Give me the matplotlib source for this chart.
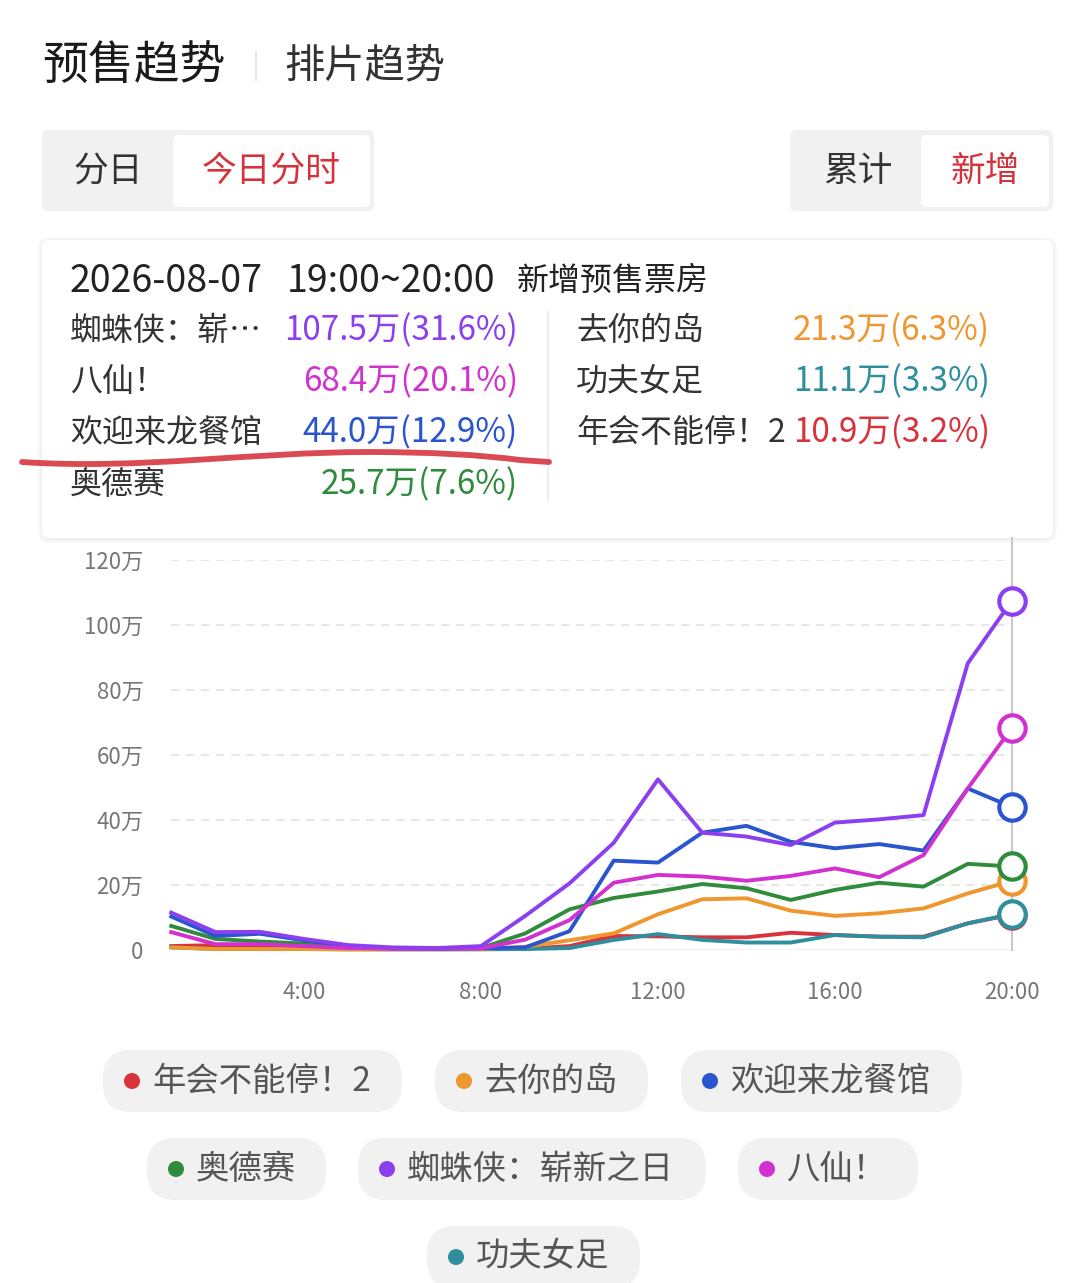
import matplotlib
matplotlib.use("Agg")
import matplotlib.pyplot as plt
from matplotlib.patches import FancyBboxPatch, Circle, PathPatch
from matplotlib.path import Path
from matplotlib.ticker import FuncFormatter

plt.rcParams['font.family'] = ['Noto Sans CJK SC', 'DejaVu Sans']

# ---------------- data (万) ----------------
hours = list(range(1, 21))
x_tick_hours = [4, 8, 12, 16, 20]
x_tick_labels = ["4:00", "8:00", "12:00", "16:00", "20:00"]
y_ticks = [0, 20, 40, 60, 80, 100, 120]

names = ["年会不能停！2", "去你的岛", "欢迎来龙餐馆", "奥德赛", "蜘蛛侠：崭新之日", "八仙！", "功夫女足"]
colors = ["#d8323c", "#f0962e", "#2a55cf", "#2f8c3c", "#8c3ff0", "#d231cf", "#2f8f9e"]

nianhui = [1.2, 1.5, 1.5, 1.0, 0.5, 0.3, 0.3, 0.3, 0.4, 1.2, 4.3, 4.2, 3.9, 3.9, 5.3, 4.6, 4.1, 4.1, 8.2, 10.9]
qunidedao = [0.8, 0.3, 0.3, 0.3, 0.2, 0.2, 0.2, 0.3, 1.0, 3.0, 5.1, 11.0, 15.6, 15.9, 12.1, 10.5, 11.3, 12.8, 17.4, 21.3]
huanying = [10.3, 4.3, 5.0, 3.0, 1.2, 0.5, 0.4, 0.5, 0.8, 5.8, 27.5, 26.9, 36.1, 38.2, 33.3, 31.3, 32.6, 30.6, 49.7, 44.0]
aodesai = [7.4, 3.4, 2.6, 2.0, 0.8, 0.4, 0.4, 0.6, 5.1, 12.5, 16.0, 18.0, 20.3, 19.0, 15.4, 18.5, 20.7, 19.5, 26.5, 25.7]
zhizhuxia = [11.5, 5.5, 5.6, 3.4, 1.5, 0.8, 0.6, 1.2, 10.5, 20.5, 33.0, 52.5, 36.1, 34.9, 32.3, 39.2, 40.2, 41.5, 88.2, 107.5]
baxian = [5.5, 1.8, 1.8, 1.2, 0.6, 0.4, 0.4, 0.5, 3.2, 9.2, 20.7, 23.1, 22.6, 21.3, 22.8, 25.1, 22.4, 29.2, 49.7, 68.4]
gongfu = [0.8, 0.3, 0.3, 0.3, 0.2, 0.2, 0.2, 0.2, 0.3, 0.6, 3.1, 4.9, 3.1, 2.3, 2.3, 4.6, 4.1, 3.9, 8.2, 11.1]
series = [nianhui, qunidedao, huanying, aodesai, zhizhuxia, baxian, gongfu]

# tooltip (19:00~20:00)
tip_names = ["蜘蛛侠：崭…", "八仙！", "欢迎来龙餐馆", "奥德赛", "去你的岛", "功夫女足", "年会不能停！2"]
tip_series = [4, 5, 2, 3, 1, 6, 0]
tip_pct = [31.6, 20.1, 12.9, 7.6, 6.3, 3.3, 3.2]

# ---------------- figure ----------------
W, H = 1080, 1283
fig = plt.figure(figsize=(W / 100, H / 100), dpi=100)
fig.patch.set_facecolor("white")

ui = fig.add_axes([0, 0, 1, 1])
ui.set_xlim(0, W)
ui.set_ylim(H, 0)
ui.axis("off")
ui.set_zorder(0)

def rbox(x0, y0, x1, y1, fc, ec="none", r=8, z=1, lw=0):
    p = FancyBboxPatch((x0, y0), x1 - x0, y1 - y0,
                       boxstyle=f"round,pad=0,rounding_size={r}",
                       fc=fc, ec=ec, lw=lw, zorder=z)
    ui.add_patch(p)

# header
ui.text(42, 66, "预售趋势", fontsize=33, color="#1a1a1a", va="center", ha="left", fontweight="medium")
ui.plot([256, 256], [52, 80], color="#e6e6e6", lw=1.5)
ui.text(284, 66, "排片趋势", fontsize=29, color="#333333", va="center", ha="left")

# toggle buttons
rbox(42, 130, 374, 211, "#f1f1f1", r=6)
rbox(173, 135, 370, 207, "white", r=6, z=2)
ui.text(108, 171, "分日", fontsize=25, color="#333333", va="center", ha="center")
ui.text(271, 171, "今日分时", fontsize=25, color="#d6323c", va="center", ha="center", zorder=3)
rbox(790, 130, 1053, 211, "#f1f1f1", r=6)
rbox(921, 135, 1049, 207, "white", r=6, z=2)
ui.text(858, 171, "累计", fontsize=25, color="#333333", va="center", ha="center")
ui.text(985, 171, "新增", fontsize=25, color="#d6323c", va="center", ha="center", zorder=3)

# tooltip box
for i, a in enumerate([0.018, 0.015, 0.012, 0.01]):
    rbox(42 - 4 + i, 240 - 3 + i, 1053 + 4 - i, 538 + 5 - i, (0, 0, 0, a), r=12, z=3)
rbox(42, 240, 1053, 538, "white", r=8, z=4)
ui.text(70, 281, "2026-08-07", fontsize=27, color="#222222", va="center", ha="left", zorder=5)
ui.text(287, 281, "19:00~20:00", fontsize=27, color="#222222", va="center", ha="left", zorder=5)
ui.text(517, 281, "新增预售票房", fontsize=23, color="#222222", va="center", ha="left", zorder=5)
ui.plot([548, 548], [312, 500], color="#eeeeee", lw=1.5, zorder=5)

row_y = [331, 382, 433, 485]
for k, (nm, si, pct) in enumerate(zip(tip_names, tip_series, tip_pct)):
    if k < 4:
        nx, vx, yy = 70, 518, row_y[k]
    else:
        nx, vx, yy = 576, 990, row_y[k - 4]
    val = series[si][-1]
    ui.text(nx, yy, nm, fontsize=23, color="#333333", va="center", ha="left", zorder=5)
    ui.text(vx, yy, f"{val:.1f}万({pct}%)", fontsize=24, color=colors[si],
            va="center", ha="right", zorder=5)

# hand-drawn red underline
verts = [(22, 462), (140, 470), (250, 452), (370, 452), (460, 452), (520, 460), (549, 462)]
codes = [Path.MOVETO, Path.CURVE4, Path.CURVE4, Path.CURVE4, Path.CURVE3, Path.CURVE3, Path.LINETO]
ui.add_patch(PathPatch(Path(verts, codes), fc="none", ec="#d9404a", lw=4.2,
                       capstyle="round", zorder=6, alpha=0.95))

# legend pills
pills = [
    (0, 103, 402, 1081), (1, 435, 648, 1081), (2, 681, 962, 1081),
    (3, 147, 326, 1169), (4, 358, 706, 1169), (5, 738, 918, 1169),
    (6, 427, 640, 1257),
]
for idx, x0, x1, yc in pills:
    rbox(x0, yc - 31, x1, yc + 31, "#f1f1f1", r=28)
    ui.add_patch(Circle((x0 + 29, yc), 8, fc=colors[idx], ec="none", zorder=3))
    ui.text(x0 + 49, yc, names[idx], fontsize=24, color="#555555", va="center", ha="left", zorder=3)

# ---------------- chart ----------------
x_left, x_right, y_bot, y_top = 171.25, 1012, 950, 560
ax = fig.add_axes([x_left / W, (H - y_bot) / H, (x_right - x_left) / W, (y_bot - y_top) / H])
ax.set_zorder(1)
ax.patch.set_alpha(0)
ax.set_xlim(hours[0], hours[-1])
ax.set_ylim(0, 120)
for s in ax.spines.values():
    s.set_visible(False)

for yv in y_ticks[1:]:
    ax.axhline(yv, color="#e3e3e3", lw=1.2, ls=(0, (5, 4)), zorder=0)
ax.axhline(0, color="#eeeeee", lw=1.2, zorder=0)
ax.plot([hours[-1], hours[-1]], [0, 126.8], color="#c8c8c8", lw=1.5, clip_on=False, zorder=1)

order = [0, 6, 1, 3, 2, 5, 4]
for i in order:
    ax.plot(hours, series[i], color=colors[i], lw=2.8, solid_joinstyle="round", zorder=2 + order.index(i) * 0.1,
            clip_on=False)
for i in order:
    ax.plot([hours[-1]], [series[i][-1]], marker="o", ms=19, mfc="white", mec=colors[i], mew=3.0,
            clip_on=False, zorder=5 + order.index(i) * 0.1)

ax.set_yticks(y_ticks)
ax.yaxis.set_major_formatter(FuncFormatter(lambda v, p: "0" if v == 0 else f"{int(v)}万"))
ax.set_xticks(x_tick_hours)
ax.set_xticklabels(x_tick_labels)
ax.tick_params(axis="y", length=0, pad=20, labelsize=16, labelcolor="#777777")
ax.tick_params(axis="x", length=0, pad=22, labelsize=16, labelcolor="#777777")

fig.savefig("out.png", dpi=100, facecolor="white")
